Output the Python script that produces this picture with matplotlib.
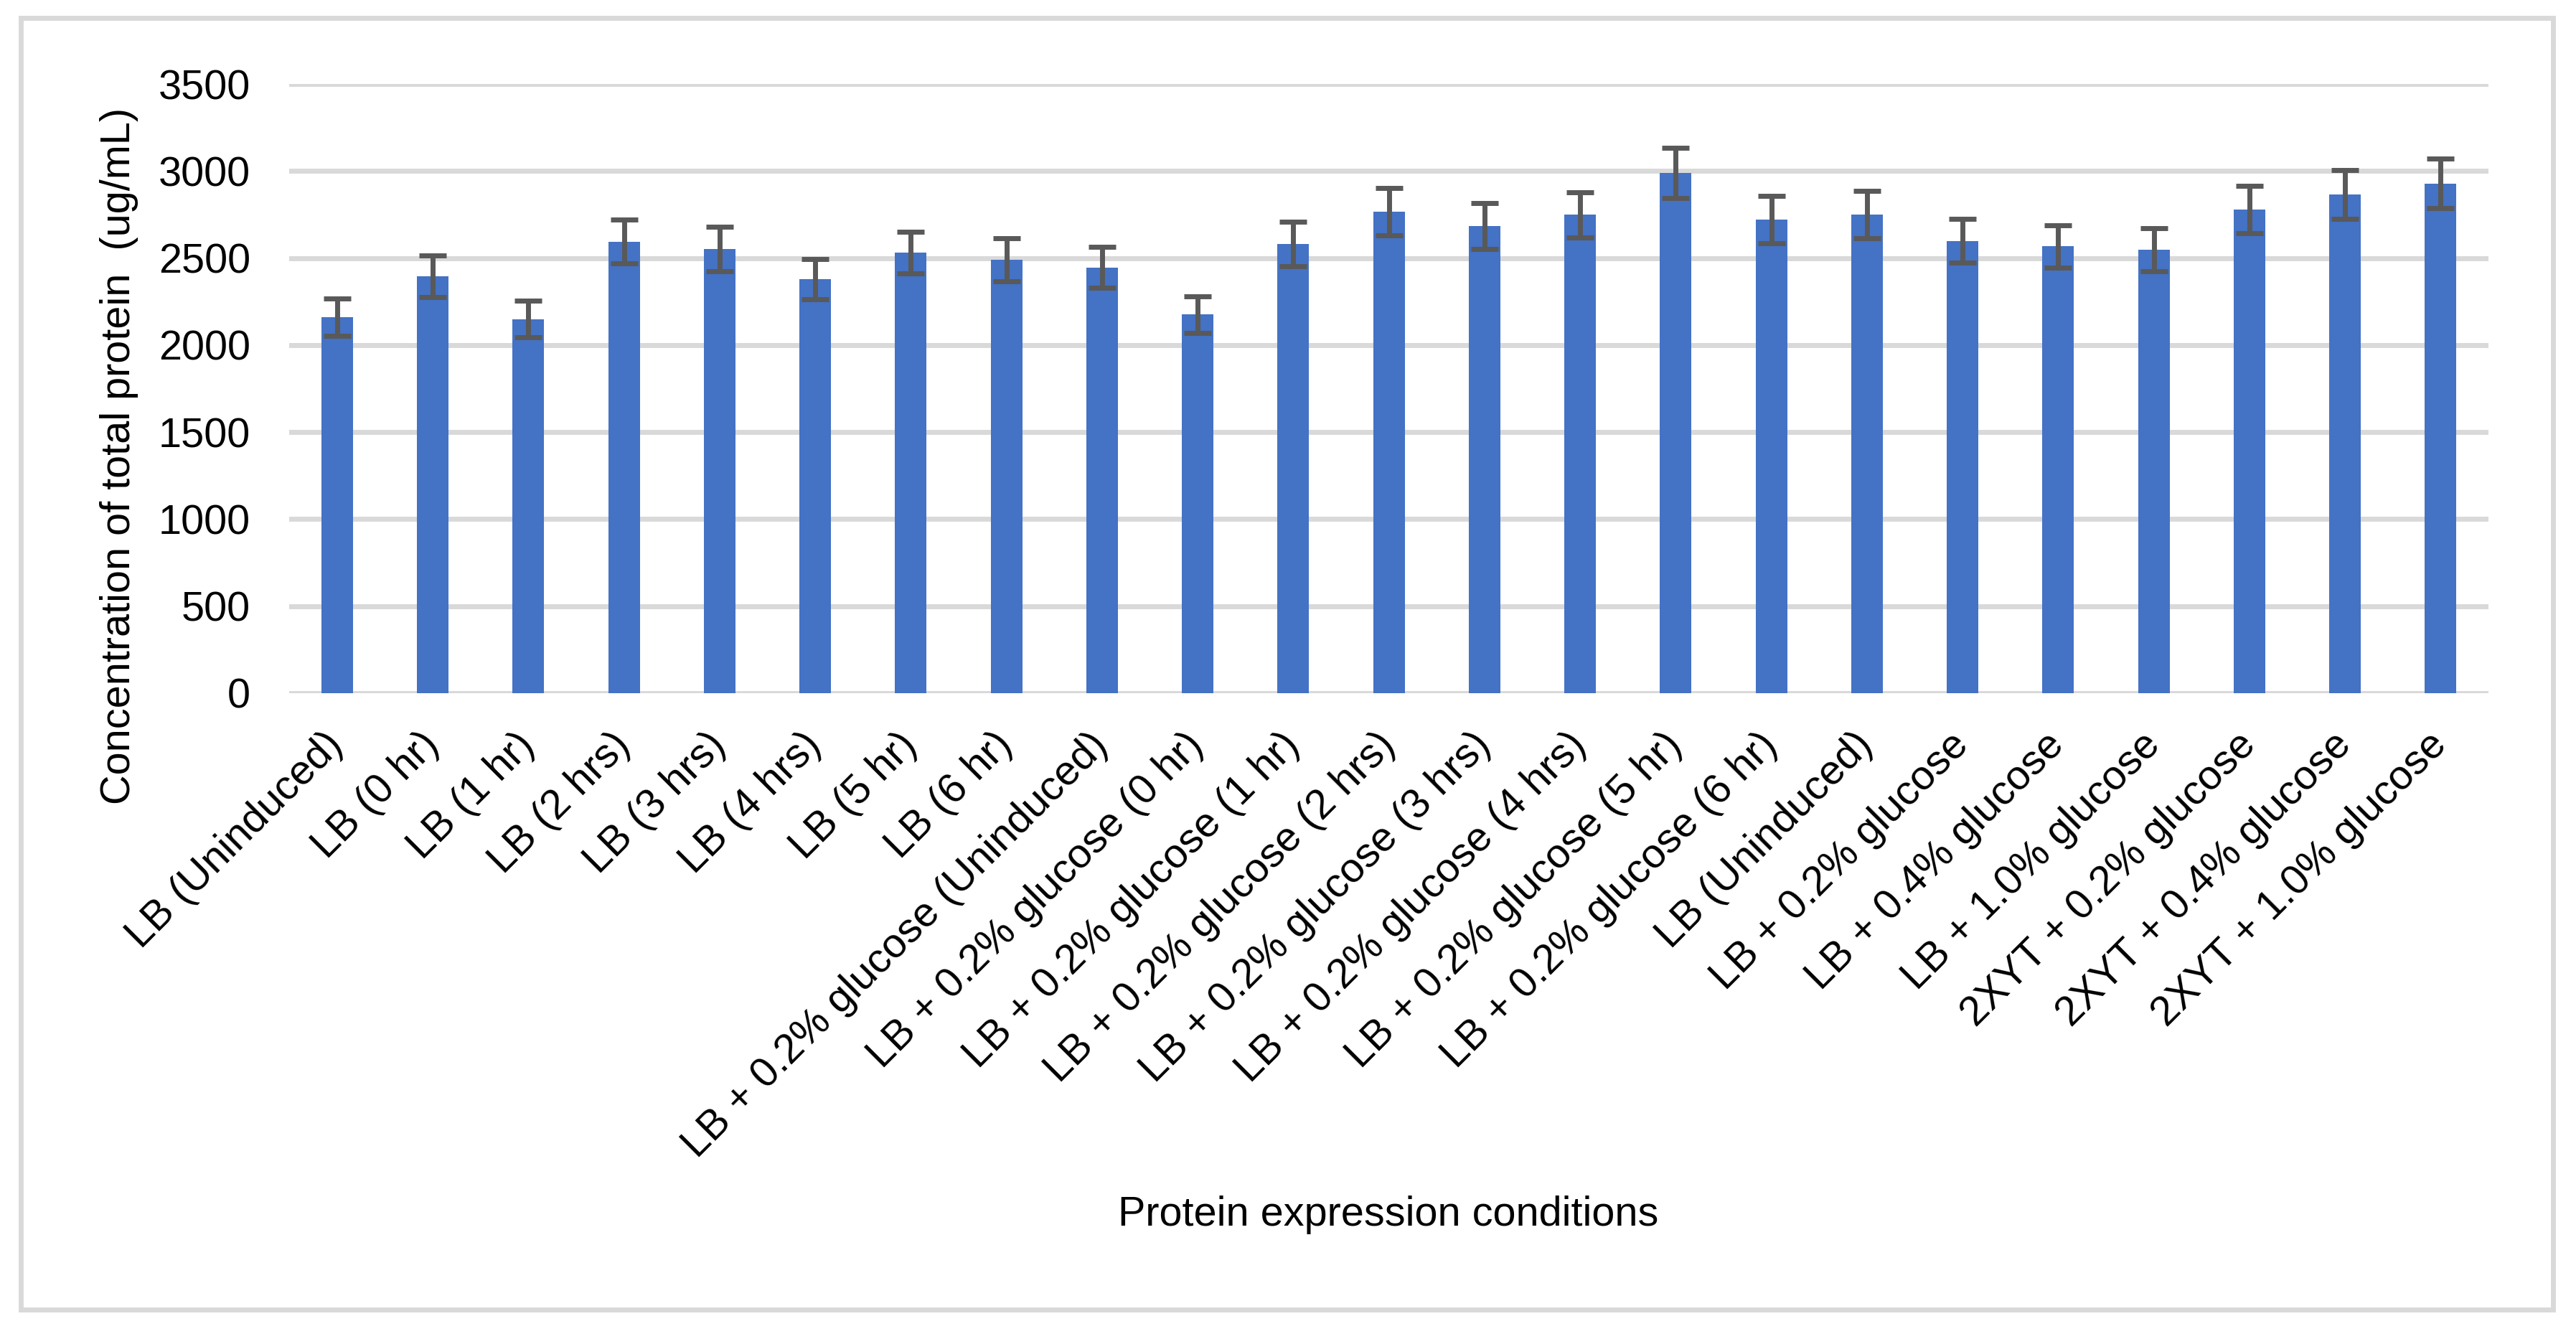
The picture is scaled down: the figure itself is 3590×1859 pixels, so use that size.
import numpy as np
import matplotlib
matplotlib.use('Agg')
import matplotlib.pyplot as plt
from matplotlib.patches import Rectangle

plt.rcParams['font.family'] = ['Liberation Sans', 'DejaVu Sans']

conditions = ['LB (Uninduced)', 'LB (0 hr)', 'LB (1 hr)', 'LB (2 hrs)', 'LB (3 hrs)',
              'LB (4 hrs)', 'LB (5 hr)', 'LB (6 hr)',
              'LB + 0.2% glucose (Uninduced)', 'LB + 0.2% glucose (0 hr)',
              'LB + 0.2% glucose (1 hr)', 'LB + 0.2% glucose (2 hrs)',
              'LB + 0.2% glucose (3 hrs)', 'LB + 0.2% glucose (4 hrs)',
              'LB + 0.2% glucose (5 hr)', 'LB + 0.2% glucose (6 hr)',
              'LB (Uninduced)', 'LB + 0.2% glucose', 'LB + 0.4% glucose',
              'LB + 1.0% glucose', '2XYT + 0.2% glucose', '2XYT + 0.4% glucose',
              '2XYT + 1.0% glucose']
conc = [2160, 2395, 2150, 2595, 2553, 2380, 2532, 2490, 2446, 2175, 2582, 2766,
        2685, 2748, 2990, 2722, 2750, 2598, 2567, 2548, 2780, 2866, 2929]
err = [107, 118, 105, 127, 127, 116, 121, 124, 118, 105, 127, 137,
       131, 131, 145, 136, 137, 126, 121, 124, 137, 140, 142]
yticks = [0, 500, 1000, 1500, 2000, 2500, 3000, 3500]

fs = 41.5

fig = plt.figure(figsize=(35.9, 18.59), dpi=100)
ax = fig.add_axes([0.1123, 0.4804, 0.8537, 0.4566])

x = np.arange(len(conditions))
ax.bar(x, conc, width=0.33, color='#4472C4', zorder=2)
ax.errorbar(x, conc, yerr=err, fmt='none', ecolor='#595959', elinewidth=5,
            capsize=14, capthick=5, zorder=3)

ax.set_xlim(-0.5, len(conditions) - 0.5)
ax.set_ylim(0, 3500)
ax.set_yticks(yticks)
ax.set_yticklabels([str(v) for v in yticks])
ax.grid(axis='y', color='#D9D9D9', linewidth=5, zorder=0)
ax.set_axisbelow(True)
for s in ax.spines.values():
    s.set_visible(False)

ax.tick_params(axis='y', length=0, pad=39, labelsize=fs)
ax.tick_params(axis='x', length=0, pad=46, labelsize=fs)
ax.set_xticks(x)
ax.set_xticklabels(conditions, rotation=45, ha='right', va='center',
                   rotation_mode='anchor')

fig.text(0.539, 1 - 1693 / 1859, 'Protein expression conditions',
         ha='center', va='center', fontsize=fs)
fig.text(166 / 3590, 1 - 635 / 1859, 'Concentration of total protein  (ug/mL)',
         ha='center', va='center', rotation=90, fontsize=fs)

# outer chart border
fig.patches.append(Rectangle((29 / 3590, 1 - 1825 / 1859), (3558 - 29) / 3590,
                             (1825 - 25) / 1859, transform=fig.transFigure,
                             fill=False, edgecolor='#D9D9D9', linewidth=5))

fig.savefig('out.png', dpi=100, facecolor='white')
